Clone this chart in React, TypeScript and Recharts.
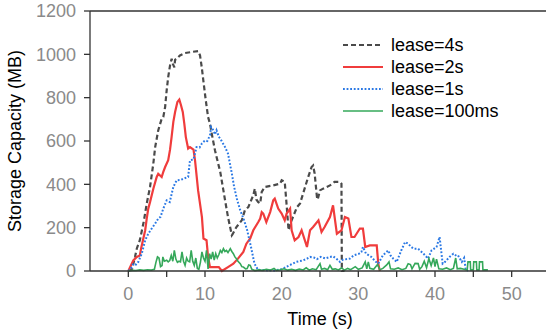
import React from 'react';
import { LineChart, Line, XAxis, YAxis, ReferenceLine, Legend } from 'recharts';

const xTicks = [0, 5, 10, 15, 20, 25, 30, 35, 40, 45, 50];
const yTicks = [0, 200, 400, 600, 800, 1000, 1200];
const seriesNames = ['lease=4s', 'lease=2s', 'lease=1s', 'lease=100ms'];

const lease4s: [number, number][] = [
  [0, 0], [0.5, 10], [0.87, 65], [1.1, 103], [1.5, 142], [2.0, 226], [2.4, 311], [2.83, 388],
  [3.26, 496], [3.5, 572], [3.9, 649], [4.35, 703], [4.56, 711], [4.8, 757], [5.0, 834],
  [5.2, 895], [5.44, 949], [5.65, 980], [5.8, 957], [6.0, 940], [6.1, 975], [6.3, 980],
  [6.74, 995], [7.4, 1006], [8.27, 1011], [9.1, 1015], [9.35, 995], [9.57, 942], [9.78, 880],
  [10.1, 788], [10.4, 711], [10.65, 680], [10.9, 630], [11.3, 557], [12.0, 455], [12.4, 372],
  [12.6, 330], [13.0, 249], [13.5, 165], [13.6, 170], [14.1, 203], [14.8, 234], [15.2, 280],
  [15.65, 295], [16.3, 350], [16.5, 380], [16.7, 330], [16.95, 318], [17.2, 312], [17.4, 365],
  [17.8, 388], [18.9, 395], [19.8, 403], [20.0, 419], [20.4, 411], [20.6, 326], [20.9, 188],
  [21.3, 234], [22.0, 295], [22.4, 312], [22.8, 358], [23.4, 427], [23.9, 480], [24.1, 487],
  [24.3, 450], [24.6, 341], [24.7, 330], [25.0, 372], [25.4, 380], [26.3, 395], [26.9, 411],
  [27.6, 411], [27.8, 403], [27.85, 0], [28.2, 0],
];

const lease2s: [number, number][] = [
  [0, 0], [0.65, 49], [1.1, 65], [1.5, 72], [1.7, 110], [2.2, 188], [2.4, 242], [2.6, 288],
  [2.83, 318], [3.26, 380], [3.7, 434], [3.9, 449], [4.35, 434], [4.56, 457], [4.8, 480],
  [5.2, 511], [5.44, 560], [5.65, 620], [5.87, 688], [6.1, 734], [6.4, 780], [6.65, 791],
  [6.87, 765], [7.1, 734], [7.3, 680], [7.5, 618], [7.8, 565], [8.04, 572], [8.5, 560],
  [8.7, 511], [9.1, 372], [9.6, 249], [9.8, 150], [10.2, 142], [10.4, 65], [10.65, 18],
  [11.8, 18], [12.2, 0], [13.0, 18], [13.7, 34], [14.3, 57], [15.0, 88], [15.4, 126],
  [15.9, 150], [16.3, 188], [16.95, 226], [17.2, 242], [17.4, 272], [17.6, 265], [18.0, 226],
  [18.5, 272], [18.9, 326], [19.1, 334], [19.55, 288], [20.0, 265], [20.4, 234], [20.65, 265],
  [21.1, 288], [21.3, 188], [21.7, 142], [22.2, 157], [22.6, 188], [23.3, 111], [23.7, 188],
  [24.1, 203], [24.8, 234], [25.2, 180], [25.6, 203], [26.3, 249], [26.7, 303], [27.2, 172],
  [27.8, 188], [28.25, 249], [28.7, 242], [29.1, 157], [29.5, 157], [30.2, 196], [30.6, 196],
  [30.9, 111], [31.5, 118], [32.4, 118], [32.6, 34], [32.8, 0],
];

const lease1s: [number, number][] = [
  [0, 0], [0.3, 10], [0.65, 34], [1.0, 30], [1.3, 42], [1.75, 80], [2.2, 142], [2.6, 172],
  [3.05, 196], [3.5, 219], [3.9, 242], [4.2, 250], [4.56, 288], [5.0, 326], [5.4, 318],
  [5.87, 388], [6.3, 419], [6.8, 420], [7.2, 426], [7.8, 434], [8.04, 511], [8.5, 515],
  [8.9, 572], [9.3, 570], [9.6, 589], [10.0, 603], [10.3, 600], [10.65, 626], [10.8, 665],
  [11.1, 649], [11.3, 630], [11.5, 650], [11.8, 620], [12.1, 604], [12.6, 573], [13.0, 542],
  [13.5, 450], [13.8, 388], [14.2, 327], [14.6, 280], [15.1, 234], [15.5, 188], [16.0, 111],
  [16.45, 34], [16.9, 6], [18, 3], [19, 2], [20, 8], [21, 26], [21.9, 42], [22.8, 49],
  [23.3, 57], [23.7, 65], [24.2, 62], [24.6, 55], [25.1, 65], [25.7, 58], [26.3, 65],
  [26.7, 68], [27.2, 55], [27.6, 42], [28.0, 52], [28.9, 57], [29.4, 72], [30.1, 80],
  [30.4, 88], [30.6, 111], [31.0, 80], [31.7, 65], [32.2, 45], [32.6, 34], [33.2, 72],
  [33.9, 95], [34.2, 72], [34.55, 57], [35.0, 42], [35.6, 95], [36.1, 134], [36.5, 126],
  [36.9, 111], [37.2, 103], [37.8, 103], [38.5, 80], [39.1, 57], [39.55, 95], [40.2, 111],
  [40.6, 157], [40.8, 95], [41.0, 34], [41.3, 42], [41.9, 65], [42.4, 80], [42.8, 70],
  [43.0, 72], [43.5, 42], [43.8, 60], [44.0, 10], [44.3, 0],
];

const lease100ms: [number, number][] = [
  [0, 0], [0.5, 3], [1, 2], [1.5, 5], [2, 3], [2.5, 6], [3, 4], [3.4, 8], [3.6, 40], [3.8, 65],
  [4.0, 60], [4.2, 20], [4.4, 25], [4.5, 65], [4.7, 45], [5.0, 50], [5.2, 42], [5.4, 48],
  [5.6, 72], [5.8, 45], [6.0, 95], [6.2, 55], [6.4, 40], [6.6, 45], [6.8, 42], [7.0, 88],
  [7.2, 45], [7.4, 26], [7.6, 60], [7.8, 45], [8.0, 42], [8.2, 95], [8.4, 45], [8.6, 26],
  [8.8, 60], [9.0, 12], [9.2, 8], [9.4, 40], [9.6, 88], [9.8, 60], [10.0, 45], [10.2, 95],
  [10.4, 10], [10.6, 80], [10.8, 55], [11.0, 88], [11.2, 50], [11.4, 80], [11.6, 60],
  [11.8, 75], [12.0, 95], [12.2, 85], [12.4, 103], [12.6, 90], [12.8, 95], [13.0, 85],
  [13.3, 103], [13.5, 90], [13.7, 80], [13.9, 65], [14.1, 57], [14.3, 45], [14.6, 34],
  [14.8, 20], [15.0, 18], [15.3, 10], [15.5, 11], [15.7, 28], [15.9, 26], [16.1, 8],
  [16.5, 2], [17, 5], [17.5, 3], [18, 8], [18.5, 4], [19, 12], [19.3, 3], [19.8, 6],
  [20.3, 10], [20.8, 4], [21.3, 8], [21.8, 3], [22.3, 9], [22.8, 5], [23.2, 15], [23.6, 4],
  [24.0, 10], [24.5, 6], [25.0, 34], [25.2, 8], [25.6, 12], [26.0, 6], [26.3, 26], [26.6, 8],
  [27.0, 10], [27.4, 5], [27.8, 14], [28.2, 4], [28.6, 12], [29.0, 6], [29.6, 20], [30.0, 8],
  [30.5, 14], [30.9, 42], [31.1, 10], [31.3, 42], [31.5, 12], [32.0, 8], [32.5, 30],
  [32.8, 6], [33.2, 12], [33.7, 28], [34.0, 42], [34.2, 10], [34.7, 8], [35.2, 14],
  [35.7, 6], [36.2, 12], [36.5, 34], [36.8, 30], [37.0, 10], [37.4, 35], [37.8, 34],
  [38.0, 8], [38.3, 20], [38.6, 45], [38.9, 15], [39.2, 57], [39.5, 25], [39.8, 60],
  [40.0, 20], [40.2, 55], [40.5, 10], [41.0, 8], [41.5, 14], [42.0, 6], [42.4, 12],
  [42.7, 60], [42.9, 10], [43.3, 12], [43.8, 8], [44.2, 5], [44.3, 42], [44.6, 42],
  [44.65, 5], [45.0, 5], [45.05, 42], [45.4, 42], [45.45, 5], [45.75, 5], [45.8, 42],
  [46.2, 42], [46.25, 5], [46.9, 5],
];

const toRows = (pairs: [number, number][]) => pairs.map(([t, v]) => ({ t, v }));

const FONT = '"Liberation Sans", Arial, Helvetica, sans-serif';

const series = [
  { name: seriesNames[0], data: toRows(lease4s), color: '#4a4a4a', dash: '5 3', width: 2.2 },
  { name: seriesNames[1], data: toRows(lease2s), color: '#f03c3c', dash: undefined, width: 2.2 },
  { name: seriesNames[2], data: toRows(lease1s), color: '#2a78e4', dash: '1.8 1.8', width: 2 },
  { name: seriesNames[3], data: toRows(lease100ms), color: '#35a85a', dash: undefined, width: 1.6 },
];

const LegendBox = () => (
  <div style={{ fontFamily: FONT, fontSize: 18, color: '#000' }}>
    {series.map((s) => (
      <div key={s.name} style={{ display: 'flex', alignItems: 'center', height: 22 }}>
        <svg width={40} height={6} style={{ display: 'block' }}>
          <line x1={0} y1={3} x2={40} y2={3} stroke={s.color} strokeWidth={s.width} strokeDasharray={s.dash} />
        </svg>
        <span style={{ marginLeft: 8, lineHeight: '22px', whiteSpace: 'nowrap' }}>{s.name}</span>
      </div>
    ))}
  </div>
);

const YTitle = (props: any) => {
  const vb = props.viewBox || { x: 0, y: 11, width: 90, height: 260 };
  const cx = 15;
  const cy = vb.y + vb.height / 2;
  return (
    <text
      x={cx}
      y={cy}
      transform={`rotate(-90 ${cx} ${cy})`}
      textAnchor="middle"
      dominantBaseline="central"
      fontSize={18}
      fontFamily={FONT}
      fill="#000"
    >
      Storage Capacity (MB)
    </text>
  );
};

export default function App() {
  return (
    <div style={{ position: 'absolute', left: 0, top: 0, width: 546, height: 335, overflow: 'hidden', background: '#fff' }}>
      <LineChart width={560} height={335} margin={{ top: 11, right: 10, bottom: 0, left: 0 }}>
        <XAxis
          type="number"
          dataKey="t"
          domain={[-5, 55]}
          ticks={xTicks}
          tickFormatter={(v: number) => (v % 10 === 0 ? String(v) : '')}
          height={64}
          tickSize={6}
          tickMargin={10}
          stroke="#333"
          strokeWidth={1.3}
          tick={{ fill: '#8a8a8a', fontSize: 18, fontFamily: FONT }}
          label={{ value: 'Time (s)', position: 'insideBottom', offset: 10, fill: '#000', fontSize: 18, fontFamily: FONT }}
          allowDuplicatedCategory={false}
        />
        <YAxis
          type="number"
          domain={[0, 1200]}
          ticks={yTicks}
          width={90}
          tickSize={6}
          tickMargin={8}
          stroke="#333"
          strokeWidth={1.3}
          tick={{ fill: '#8a8a8a', fontSize: 18, fontFamily: FONT }}
          label={{ content: YTitle }}
        />
        <ReferenceLine y={1200} stroke="#333" strokeWidth={1.3} />
        <Legend
          layout="vertical"
          align="center"
          verticalAlign="middle"
          content={() => <LegendBox />}
          wrapperStyle={{ left: 343, top: 34, width: 'auto', height: 'auto' }}
        />
        {series.map((s) => (
          <Line
            key={s.name}
            name={s.name}
            data={s.data}
            dataKey="v"
            type="linear"
            stroke={s.color}
            strokeWidth={s.width}
            strokeDasharray={s.dash}
            dot={false}
            activeDot={false}
            isAnimationActive={false}
            legendType="none"
          />
        ))}
      </LineChart>
    </div>
  );
}
